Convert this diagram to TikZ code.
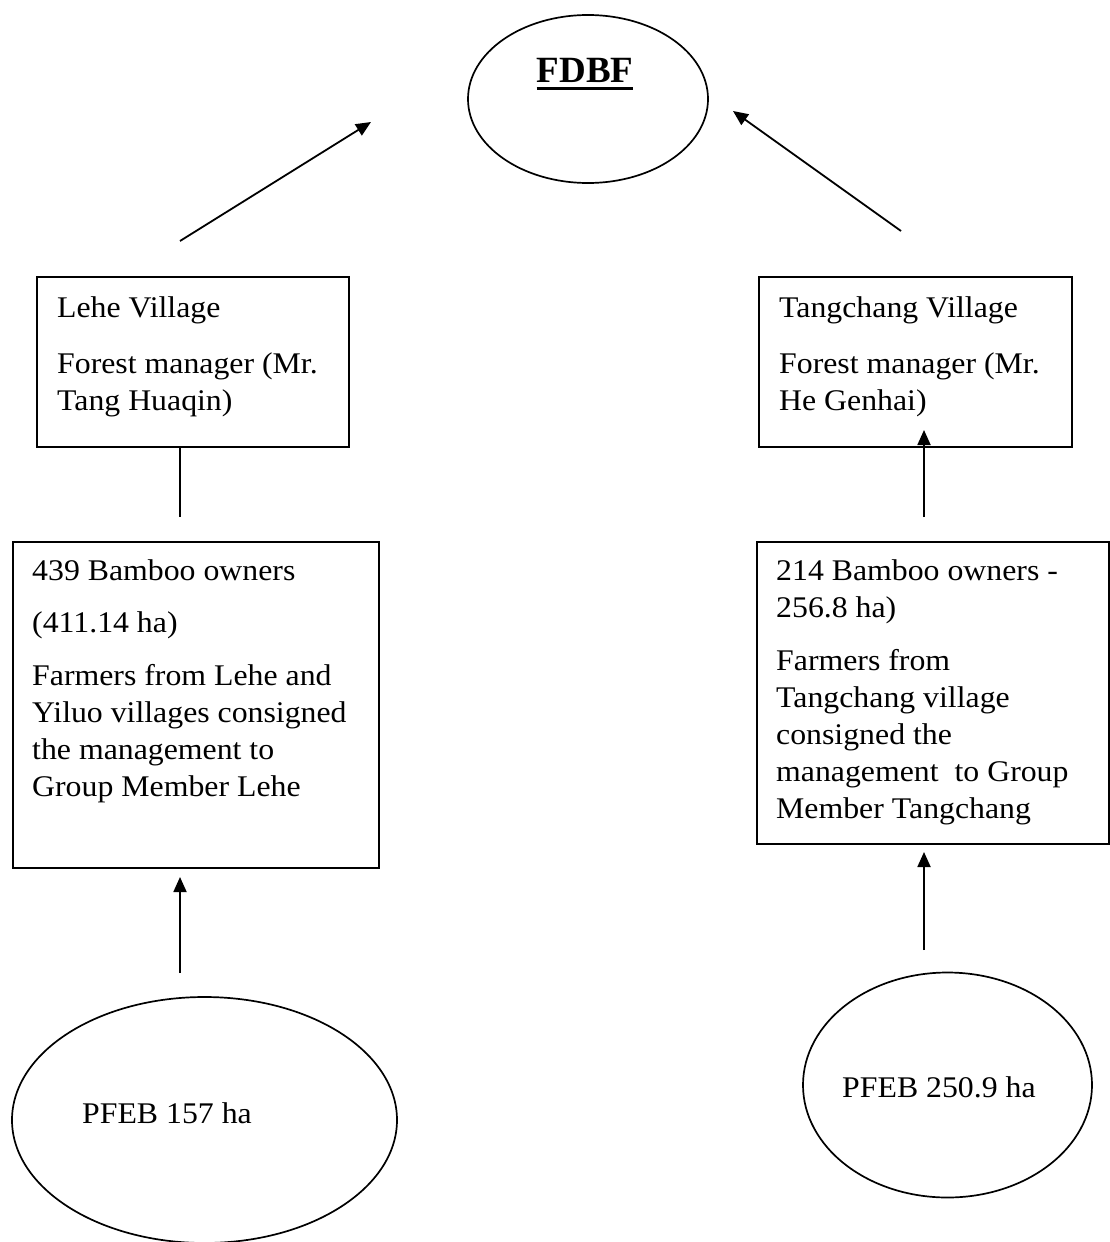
\documentclass[tikz,border=0pt]{standalone}
\usepackage{fontspec}
\setmainfont[FakeStretch=1.06]{Liberation Serif}
\newfontfamily\plainserif{Liberation Serif}
\usetikzlibrary{shapes.geometric,arrows.meta}
\newsavebox{\fdbfsave}
\newcommand{\ulbold}[1]{\sbox{\fdbfsave}{#1}\usebox{\fdbfsave}\llap{\rule[-8pt]{\wd\fdbfsave}{3.4pt}}}
\begin{document}
\begin{tikzpicture}[x=1pt,y=-1pt,
  box/.style={draw, line width=1.7pt, rectangle, anchor=north west, inner sep=0pt},
  oval/.style={draw, line width=1.7pt, ellipse, inner sep=0pt},
  txt/.style={anchor=north west, inner sep=0pt, align=left, font=\fontsize{30}{37}\selectfont},
  lbl/.style={anchor=base west, inner sep=0pt, font=\fontsize{30}{37}\selectfont},
  arr/.style={-{Triangle[length=15pt,width=13pt]}, line width=1.8pt},
  conn/.style={line width=1.8pt}]
\useasboundingbox (0,0) rectangle (1110,1242);

% top ellipse
\node[oval, minimum width=240pt, minimum height=168pt] (fdbf) at (588,99) {};
\node[anchor=base, inner sep=0pt, font=\plainserif\fontsize{37}{40}\selectfont\bfseries] (fdbftxt) at (585,82) {\ulbold{FDBF}};

% boxes
\node[box, minimum width=312pt, minimum height=170pt] (lehebox) at (36,276) {};
\node[box, minimum width=313pt, minimum height=170pt] (tangbox) at (758,276) {};
\node[box, minimum width=366pt, minimum height=326pt] (lehelow) at (12,541) {};
\node[box, minimum width=352pt, minimum height=302pt] (tanglow) at (756,541) {};

\node[txt] (lehetxt) at (57,295) {\rule{0pt}{22pt}Lehe Village\\[19pt]Forest manager (Mr.\\Tang Huaqin)};
\node[txt] (tangtxt) at (779,295) {\rule{0pt}{22pt}Tangchang Village\\[19pt]Forest manager (Mr.\\He Genhai)};
\node[txt] (lehelowtxt) at (32,558) {\rule{0pt}{22pt}439 Bamboo owners\\[15pt](411.14 ha)\\[16pt]Farmers from Lehe and\\Yiluo villages consigned\\the management to\\Group Member Lehe};
\node[txt] (tanglowtxt) at (776,558) {\rule{0pt}{22pt}214 Bamboo owners -\\256.8 ha)\\[16pt]Farmers from\\Tangchang village\\consigned the\\management~ to Group\\Member Tangchang};

% bottom ellipses
\node[oval, minimum width=385pt, minimum height=246pt] (pfebl) at (204.5,1120) {};
\node[lbl] (pfebltxt) at (82,1123) {PFEB 157 ha};
\node[oval, minimum width=289pt, minimum height=225pt] (pfebr) at (947.5,1085) {};
\node[lbl] (pfebrtxt) at (842,1097) {PFEB 250.9 ha};

% free connector ends
\coordinate (a1s) at (180,241);
\coordinate (a1e) at (371,122);
\coordinate (a2s) at (901,231);
\coordinate (a2e) at (733,111);
\coordinate (l1e) at (180,517);
\coordinate (a3s) at (924,517);
\coordinate (a3e) at (924,430);
\coordinate (a4s) at (180,973);
\coordinate (a4e) at (180,877);
\coordinate (a5s) at (924,950);
\coordinate (a5e) at (924,852);

\draw[arr] (a1s) -- (a1e);
\draw[arr] (a2s) -- (a2e);
\draw[conn] (l1e |- lehebox.south) -- (l1e);
\draw[arr] (a3s) -- (a3e);
\draw[arr] (a4s) -- (a4e);
\draw[arr] (a5s) -- (a5e);
\end{tikzpicture}
\end{document}
